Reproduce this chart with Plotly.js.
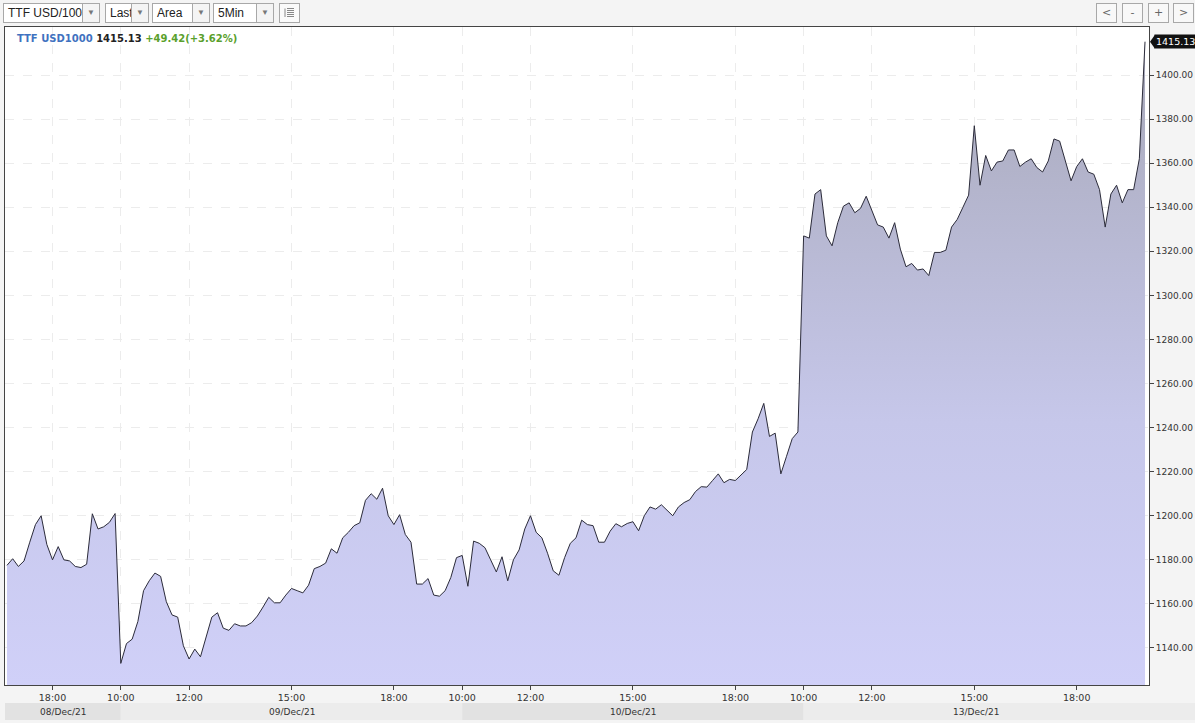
<!DOCTYPE html>
<html><head><meta charset="utf-8">
<script src="https://cdn.plot.ly/plotly-3.0.1.min.js"></script>
<style>
html,body{margin:0;padding:0;background:#f4f4f4;width:1195px;height:723px;overflow:hidden;}
#chart{position:absolute;left:0;top:0;width:1195px;height:723px;}
.tb{position:absolute;top:3px;height:20px;border:1px solid #a8a8a8;background:#fff;font:12px "Liberation Sans",Arial,sans-serif;color:#222;box-sizing:border-box;z-index:5;}
.tb .lbl{position:absolute;left:4px;top:2px;white-space:nowrap;}
.tb .arr{position:absolute;right:0;top:0;bottom:0;width:16px;border-left:1px solid #a8a8a8;background:#f4f4f4;color:#777;font-size:8px;text-align:center;line-height:18px;}
.btn{position:absolute;top:3px;width:21px;height:20px;border:1px solid #a8a8a8;background:#f8f8f8;box-sizing:border-box;font:11px "DejaVu Sans",sans-serif;color:#666;text-align:center;line-height:18px;z-index:5;}
</style></head><body>
<div id="chart"></div>
<div class="tb" style="left:3px;width:97px"><span class="lbl">TTF USD/100</span><span class="arr">▼</span></div>
<div class="tb" style="left:105px;width:44px"><span class="lbl">Last</span><span class="arr">▼</span></div>
<div class="tb" style="left:152px;width:58px"><span class="lbl">Area</span><span class="arr">▼</span></div>
<div class="tb" style="left:213px;width:61px"><span class="lbl">5Min</span><span class="arr">▼</span></div>
<div class="btn" style="left:279px;width:21px;background:#fafafa"><svg width="11" height="11" style="margin-top:3px"><g stroke="#888" stroke-width="1"><line x1="1" y1="1.5" x2="1" y2="10"/><line x1="3" y1="1.5" x2="10" y2="1.5"/><line x1="3" y1="3.5" x2="10" y2="3.5"/><line x1="3" y1="5.5" x2="10" y2="5.5"/><line x1="3" y1="7.5" x2="10" y2="7.5"/><line x1="3" y1="9.5" x2="10" y2="9.5"/></g></svg></div>
<div class="btn" style="left:1096px">&lt;</div>
<div class="btn" style="left:1122px">-</div>
<div class="btn" style="left:1148px">+</div>
<div class="btn" style="left:1173px">&gt;</div>
<script>
// ---- data (10-minute samples) ----
const dates = ["08/Dec/21", "09/Dec/21", "10/Dec/21", "13/Dec/21"];
const sessionStart = ["16:40", "10:00", "10:00", "10:00"];
const dec08 = [1177.5, 1180.5, 1177, 1179.5, 1188, 1196, 1200, 1187, 1180, 1186,
               1180, 1179.5, 1177, 1176.5, 1178, 1200.9, 1194, 1195, 1197, 1201];
const dec09 = [1133, 1142, 1144, 1152, 1166, 1170.5, 1174, 1172.5, 1161, 1155,
               1154, 1141, 1135, 1139.5, 1136, 1145, 1154, 1156, 1149, 1148,
               1151, 1150, 1150, 1151.5, 1154.5, 1158.6, 1163, 1160.5, 1160.5, 1164,
               1167, 1166, 1165, 1168.5, 1176, 1177, 1178.5, 1185, 1183, 1190,
               1192.5, 1195.5, 1196.8, 1207, 1210, 1207.5, 1212.5, 1200, 1196, 1200.5,
               1191.5, 1188, 1169, 1169, 1171.5, 1164, 1163.5, 1166, 1172, 1181];
const dec10 = [1182, 1168, 1188.5, 1187.5, 1185.5, 1180, 1174.5, 1181.4, 1170.5, 1180,
               1184.5, 1194, 1200, 1192.5, 1190, 1183, 1175, 1173, 1181, 1187.5,
               1190, 1198, 1196, 1195.5, 1188, 1188, 1193, 1196.4, 1195, 1196.5,
               1197.3, 1193.2, 1200, 1204, 1203, 1205, 1202.5, 1200, 1204, 1206,
               1207.3, 1211, 1213.2, 1213, 1216, 1219, 1215, 1216.5, 1216, 1218.5,
               1221, 1238, 1244, 1251, 1236, 1237.5, 1219, 1227, 1235, 1238];
const dec13 = [1327, 1326, 1346, 1348, 1327, 1322.5, 1333, 1340.5, 1342, 1337.5,
               1339.5, 1345, 1338.5, 1332, 1331, 1326, 1333, 1321, 1313, 1314.5,
               1311.5, 1312, 1309, 1319.5, 1319.5, 1320.5, 1331, 1334.5, 1340, 1345.5,
               1377, 1350, 1363.5, 1356.5, 1360.5, 1361, 1366, 1366, 1358.5, 1360.5,
               1362, 1358, 1356, 1361, 1371, 1370, 1361, 1352, 1358.5, 1362,
               1356, 1355, 1348, 1331, 1346, 1350, 1342, 1348, 1348, 1362, 1415.13];
const tickTimes = ["10:00", "12:00", "15:00", "18:00"];
const priceTicks = [1140, 1160, 1180, 1200, 1220, 1240, 1260, 1280, 1300, 1320, 1340, 1360, 1380, 1400];
const instrument = "TTF USD1000";
const change = "+49.42(+3.62%)";

// ---- build series ----
const sessions = [dec08, dec09, dec10, dec13];
const xs = [], ys = [], times = [], dayStartIdx = [];
function addMin(t, m) {
  const [h, mm] = t.split(":").map(Number);
  const tot = h * 60 + mm + m;
  return String(Math.floor(tot / 60)).padStart(2, "0") + ":" + String(tot % 60).padStart(2, "0");
}
sessions.forEach((vals, d) => {
  dayStartIdx.push(xs.length);
  vals.forEach((v, k) => {
    const t = addMin(sessionStart[d], k * 10);
    xs.push(xs.length); ys.push(v); times.push(t);
  });
});
const N = xs.length;
const tickvals = [], ticktext = [];
times.forEach((t, i) => { if (tickTimes.includes(t)) { tickvals.push(i); ticktext.push(t); } });
const last = ys[N - 1];

const xr = [-0.35, N - 0.3];
const yr = [1123.2, 1421.8];

const shapes = [];
const annotations = [];
const bandY0 = -0.0274, bandY1 = -0.0532;
dates.forEach((d, k) => {
  const a = k === 0 ? xr[0] : dayStartIdx[k];
  const b = k === dates.length - 1 ? xr[1] : dayStartIdx[k + 1];
  shapes.push({type: "rect", xref: "x", yref: "paper", x0: a, x1: b, y0: bandY0, y1: bandY1,
    fillcolor: k % 2 === 0 ? "#e2e2e2" : "#ececec", line: {width: 0}, layer: "below"});
  annotations.push({xref: "x", yref: "paper", x: (a + b) / 2, y: (bandY0 + bandY1) / 2,
    text: d, showarrow: false, xanchor: "center", yanchor: "middle",
    font: {family: "DejaVu Sans", size: 9, color: "#333"}});
});
shapes.push({type: "rect", xref: "paper", yref: "paper", x0: 1, x1: 1.06, y0: bandY0, y1: bandY1,
  fillcolor: "#ececec", line: {width: 0}, layer: "below"});
// last-price pointer
shapes.push({type: "path", xref: "paper", xsizemode: "pixel", xanchor: 1, yref: "y", ysizemode: "pixel",
  yanchor: last, path: "M1,0 L6,7 L6,-7 Z", fillcolor: "#111", line: {width: 0}});
annotations.push({xref: "paper", yref: "y", x: 1, y: last, xanchor: "left", yanchor: "middle", xshift: 5,
  text: last.toFixed(2), showarrow: false, bgcolor: "#111", borderpad: 1,
  font: {family: "DejaVu Sans", size: 9.5, color: "#fff"}});
annotations.push({xref: "paper", yref: "paper", x: 0.0087, y: 0.983, xanchor: "left", yanchor: "middle",
  showarrow: false,
  text: '<b><span style="color:#3f72c0">' + instrument + '</span> <span style="color:#222">' + last.toFixed(2) +
        '</span> <span style="color:#5aa02c">' + change + '</span></b>',
  font: {family: "DejaVu Sans", size: 10}});

const trace = {
  x: xs, y: ys, type: "scatter", mode: "lines",
  line: {color: "#2b2b3a", width: 1},
  fill: "tozeroy",
  fillgradient: {type: "vertical", start: yr[0], stop: yr[1],
    colorscale: [[0, "#d0d0f8"], [0.4, "#c6c7ea"], [0.75, "#b4b5cd"], [1, "#a6a7b6"]]},
  hoverinfo: "skip"
};

const layout = {
  width: 1195, height: 723,
  margin: {l: 5, r: 46, t: 27, b: 38},
  paper_bgcolor: "#f4f4f4", plot_bgcolor: "#ffffff",
  showlegend: false,
  xaxis: {range: xr, tickvals: tickvals, ticktext: ticktext, showgrid: true, gridcolor: "#ececec",
    griddash: "dash", gridwidth: 1, zeroline: false, showline: true, linecolor: "#444", linewidth: 1,
    mirror: true, ticks: "outside", ticklen: 4, tickcolor: "#444",
    tickfont: {family: "DejaVu Sans", size: 9.5, color: "#333"}, fixedrange: true},
  yaxis: {range: yr, side: "right", tickvals: priceTicks, tickformat: ".2f", showgrid: true,
    gridcolor: "#ececec", griddash: "dash", zeroline: false, showline: true, linecolor: "#444",
    linewidth: 1, mirror: true, ticks: "outside", ticklen: 4, tickcolor: "#444",
    tickfont: {family: "DejaVu Sans", size: 9, color: "#333"}, fixedrange: true},
  shapes: shapes,
  annotations: annotations
};
Plotly.newPlot("chart", [trace], layout, {displayModeBar: false, staticPlot: true});
</script>
</body></html>
